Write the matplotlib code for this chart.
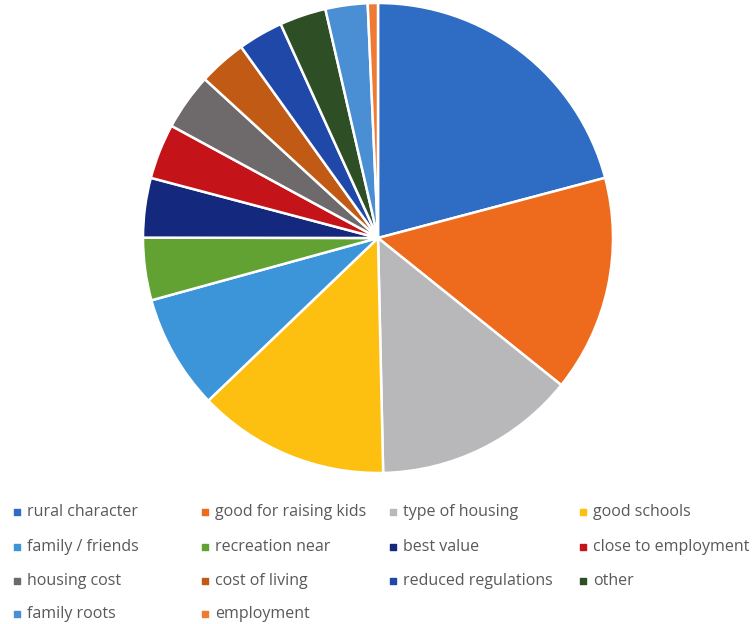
import matplotlib.pyplot as plt

labels = ['rural character', 'good for raising kids', 'type of housing', 'good schools',
          'family / friends', 'recreation near', 'best value', 'close to employment',
          'housing cost', 'cost of living', 'reduced regulations', 'other',
          'family roots', 'employment']
values = [20.9, 14.9, 13.9, 13.2, 7.9, 4.3, 4.1, 3.8, 3.9, 3.3, 3.1, 3.2, 2.9, 0.7]
colors = ['#2F6CC4', '#EE6A1C', '#B8B8BA', '#FDC010', '#3C95D8', '#62A233', '#14287E',
          '#C4141A', '#6E6A6C', '#C05A14', '#1F48A8', '#2E4E26', '#4A8ED4', '#F07A32']

W, H = 753, 624
fig = plt.figure(figsize=(W / 100, H / 100), dpi=100)

# pie: center ~ (378, 238) px, radius ~ 235 px
cx, cy, r = 378, 238, 235
ax = fig.add_axes([(cx - r) / W, (H - cy - r) / H, 2 * r / W, 2 * r / H])
ax.pie(values, colors=colors, startangle=90, counterclock=False,
       wedgeprops=dict(edgecolor='white', linewidth=1.8))
ax.set_xlim(-1, 1)
ax.set_ylim(-1, 1)
ax.set_aspect('equal')

# legend, row-major, 4 columns
leg = fig.add_axes([0, 0, 1, 1])
leg.set_xlim(0, W)
leg.set_ylim(H, 0)
leg.axis('off')
col_x = [17, 205, 393, 583]
row_y = [512, 547, 581, 614]
for i, (lab, c) in enumerate(zip(labels, colors)):
    x = col_x[i % 4]
    y = row_y[i // 4]
    leg.scatter([x], [y], marker='s', s=22, color=c)
    leg.text(x + 10, y, lab, fontsize=11.5, color='#595959', va='center',
             family='Open Sans')

fig.savefig('out.png', dpi=100)
